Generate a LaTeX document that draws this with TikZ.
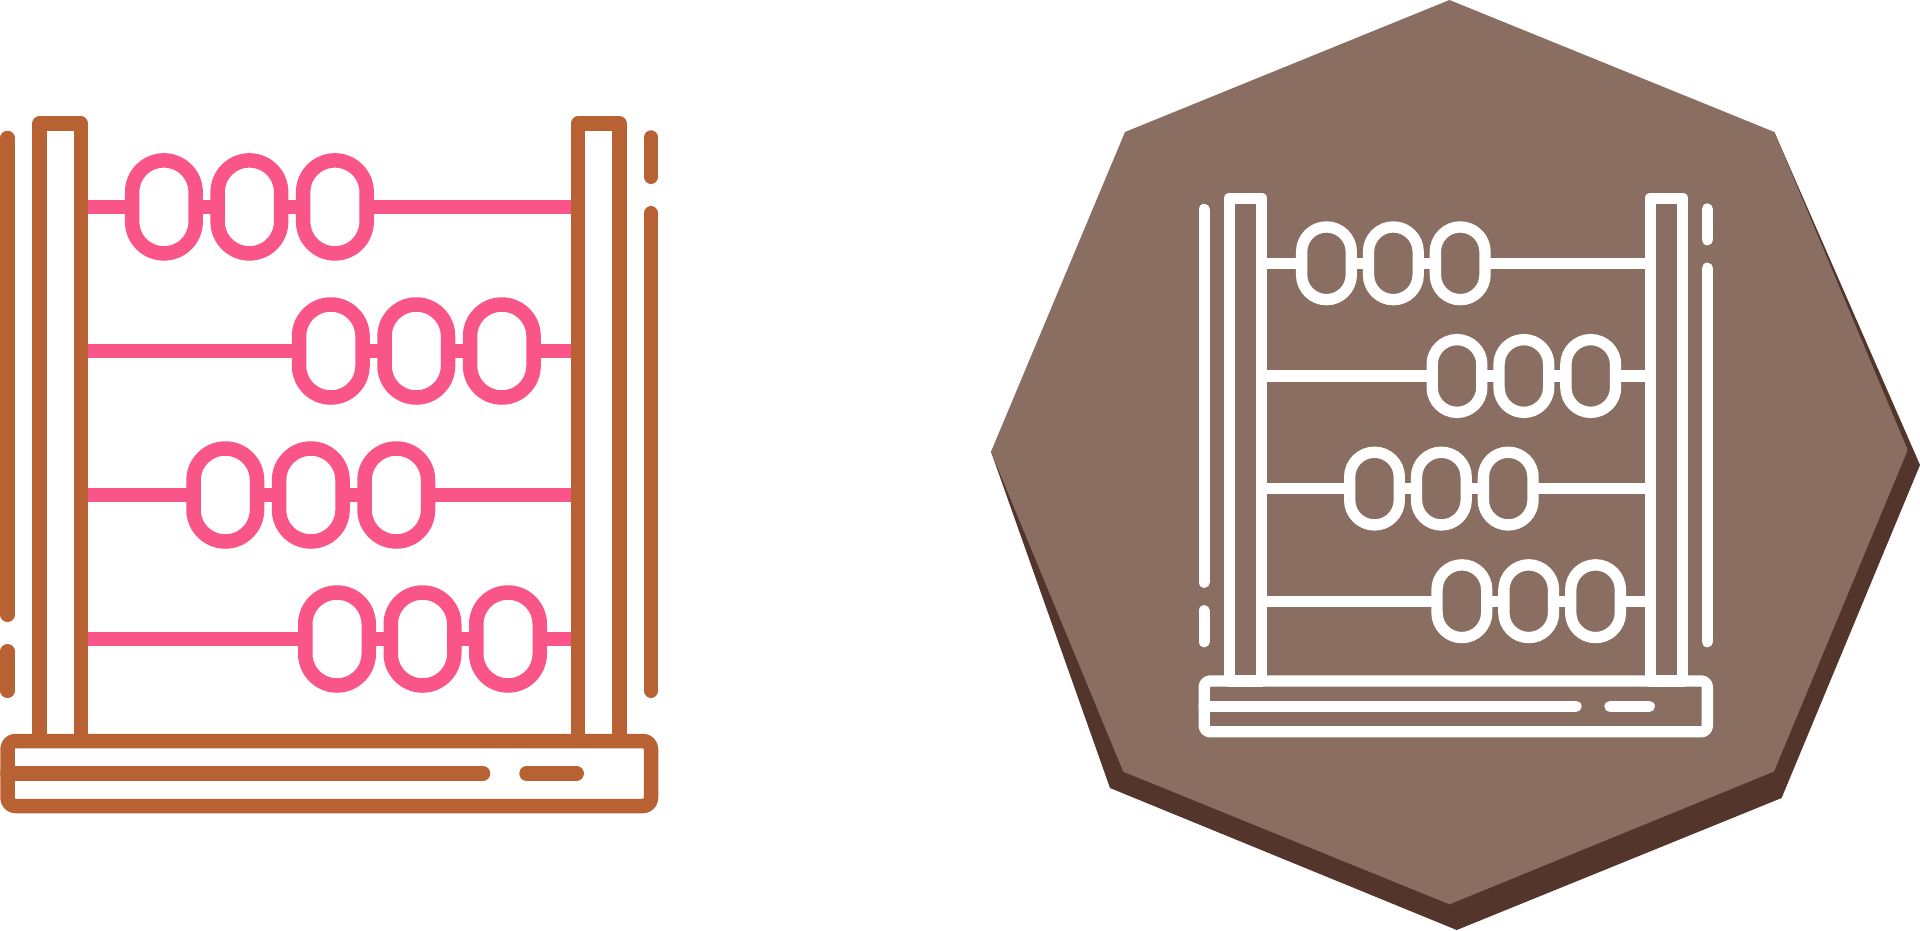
\documentclass[tikz,border=0pt]{standalone}
\usepackage{tikz}

\definecolor{framebrown}{RGB}{184,97,50}
\definecolor{beadpink}{RGB}{250,85,137}
\definecolor{plateface}{RGB}{139,110,98}
\definecolor{plateshade}{RGB}{83,53,44}

\tikzset{
	iconline/.style={line width=14.5*\iconscale pt},
	postbox/.style={iconline,draw=framecol,line join=round,shape=rectangle},
	sidebar/.style={iconline,draw=framecol,line cap=round},
	beadbox/.style={iconline,draw=beadcol,shape=rectangle,outer sep=0pt,minimum width=63.5*\iconscale pt,
		minimum height=93*\iconscale pt,rounded corners=31.7*\iconscale pt},
	rodline/.style={iconline,draw=beadcol}
}

% #1 offset, #2 scale, #3 frame colour, #4 bead colour
\newcommand{\abacusicon}[4]{
	\def\iconscale{#2}
	\colorlet{framecol}{#3}
	\colorlet{beadcol}{#4}
	\begin{scope}[shift={#1},x=#2 pt,y=-#2 pt]
		\node (postleft) [postbox,minimum width=41.1*\iconscale pt,minimum height=617.3*\iconscale pt] at (60.25,432.35) {};
		\node (postright) [postbox,minimum width=41.5*\iconscale pt,minimum height=617.3*\iconscale pt] at (598.75,432.35) {};
		\node (base) [postbox,minimum width=643.5*\iconscale pt,minimum height=65*\iconscale pt,rounded corners=8*\iconscale pt] at (329.25,773.5) {};

		\draw[sidebar] (7.5,138) -- (7.5,614.75);
		\draw[sidebar] (7.5,651.25) -- (7.5,690.75);
		\draw[sidebar] (651,137.5) -- (651,176.75);
		\draw[sidebar] (651,213.25) -- (651,690.75);
		\draw[sidebar] (7.5,773.5) -- (483,773.5);
		\draw[sidebar] (526.5,773.5) -- (576.7,773.5);

		\foreach \row/\rowy/\beadx in {1/206.9/163.9,2/351/330.8,3/495/225.3,4/639/337} {
			\foreach \col in {1,2,3} {
				\pgfmathsetmacro{\colx}{\beadx+85.5*(\col-1)}
				\node (bead\row\col) [beadbox] at (\colx,\rowy) {};
			}
			\draw[rodline] (postleft.east |- bead\row1.west) -- (bead\row1.west);
			\draw[rodline] (bead\row1.east) -- (bead\row2.west);
			\draw[rodline] (bead\row2.east) -- (bead\row3.west);
			\draw[rodline] (bead\row3.east) -- (postright.west |- bead\row3.east);
		}
	\end{scope}
}

\begin{document}
\begin{tikzpicture}[x=1pt,y=-1pt]
	\useasboundingbox (0,0) rectangle (1920,930);

	\fill[plateshade] (1774.3,132) -- (1920,465) -- (1781.6,798) -- (1456.7,930) -- (1110,788) -- (991,451.7) -- cycle;
	\fill[plateface] (1449.5,0) -- (1774.3,132) -- (1907.7,450) -- (1774,771.5) -- (1449.5,904.3) -- (1123.3,771.7) -- (991,451.7) -- (1125,132) -- cycle;

	\abacusicon{(0,0)}{1}{framebrown}{beadpink}
	\abacusicon{(1198.3,101.5)}{0.782}{white}{white}
\end{tikzpicture}
\end{document}
